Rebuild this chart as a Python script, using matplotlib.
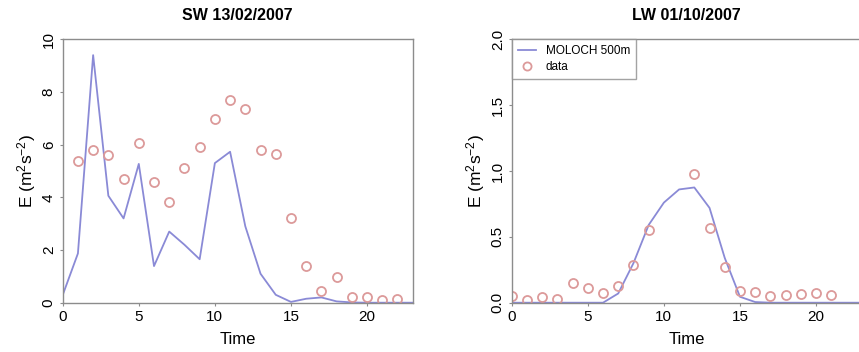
import matplotlib
matplotlib.use("Agg")
import matplotlib.pyplot as plt
import numpy as np

plt.rcParams['font.family'] = ['Liberation Sans', 'DejaVu Sans']
plt.rcParams['mathtext.fontset'] = 'custom'
plt.rcParams['mathtext.rm'] = 'Liberation Sans'
plt.rcParams['mathtext.it'] = 'Liberation Sans'

# Left panel: SW 13/02/2007
sw_time_model = list(range(0, 24))
sw_model = [0.29, 1.87, 9.4, 4.06, 3.2, 5.27, 1.39, 2.7, 2.2, 1.65, 5.3, 5.73,
            2.9, 1.1, 0.3, 0.03, 0.15, 0.2, 0.05, 0.01, 0.0, 0.0, 0.0, 0.0]
sw_time_data = list(range(1, 23))
sw_data = [5.37, 5.8, 5.6, 4.7, 6.05, 4.57, 3.83, 5.13, 5.9, 6.99, 7.7, 7.35,
           5.8, 5.65, 3.22, 1.4, 0.44, 0.96, 0.2, 0.2, 0.1, 0.13]

# Right panel: LW 01/10/2007
lw_time_model = list(range(0, 24))
lw_model = [0.0, 0.0, 0.0, 0.0, 0.0, 0.0, 0.0, 0.07, 0.3, 0.59, 0.76, 0.86,
            0.875, 0.72, 0.34, 0.045, 0.005, 0.0, 0.0, 0.0, 0.0, 0.0, 0.0, 0.0]
lw_time_data = [0, 1, 2, 3, 4, 5, 6, 7, 8, 9, 12, 13, 14, 15, 16, 17, 18, 19, 20, 21]
lw_data = [0.05, 0.02, 0.04, 0.03, 0.15, 0.11, 0.076, 0.127, 0.29, 0.55, 0.975,
           0.565, 0.27, 0.09, 0.085, 0.05, 0.055, 0.066, 0.076, 0.06]

line_color = '#8a8ad6'
pt_color = '#dc9a9a'
frame_color = '#8c8c8c'

fig = plt.figure(figsize=(8.59, 3.52), dpi=100)
W, H = 859, 352

def make_ax(left_px):
    return fig.add_axes([left_px / W, (352 - 302.7) / H, 350 / W, (302.7 - 39.3) / H])

ax1 = make_ax(62.7)
ax2 = make_ax(511.7)

def style(ax, title, ylim, yticks, yticklabels):
    ax.set_xlim(0, 23)
    ax.set_ylim(*ylim)
    ax.set_xticks([0, 5, 10, 15, 20])
    ax.set_yticks(yticks)
    ax.set_yticklabels(yticklabels, rotation=90, va='center')
    ax.tick_params(axis='both', length=2, color=frame_color, labelsize=11, pad=3)
    for s in ax.spines.values():
        s.set_color(frame_color)
        s.set_linewidth(1.0)
    ax.set_title(title, fontsize=11.5, fontweight='bold', pad=14)
    ax.set_xlabel('Time', fontsize=12, labelpad=6)
    ax.set_ylabel(r'E (m$^2$s$^{-2}$)', fontsize=12.5, labelpad=3)

ax1.plot(sw_time_model, sw_model, color=line_color, lw=1.3)
ax1.plot(sw_time_data, sw_data, 'o', mfc='none', mec=pt_color, ms=6.5, mew=1.3)
style(ax1, 'SW 13/02/2007', (0, 10), [0, 2, 4, 6, 8, 10], ['0', '2', '4', '6', '8', '10'])

ax2.plot(lw_time_model, lw_model, color=line_color, lw=1.3, label='MOLOCH 500m')
ax2.plot(lw_time_data, lw_data, 'o', mfc='none', mec=pt_color, ms=6.5, mew=1.3, label='data')
style(ax2, 'LW 01/10/2007', (0, 2.0), [0, 0.5, 1.0, 1.5, 2.0], ['0.0', '0.5', '1.0', '1.5', '2.0'])

leg = ax2.legend(loc='upper left', prop={'size': 8.5}, frameon=True, fancybox=False,
                 borderaxespad=0, handlelength=1.6, handletextpad=0.8,
                 borderpad=0.5, labelspacing=0.3, markerscale=0.9)
leg.get_frame().set_edgecolor(frame_color)
leg.get_frame().set_linewidth(1.0)

fig.savefig('out.png', dpi=100)
